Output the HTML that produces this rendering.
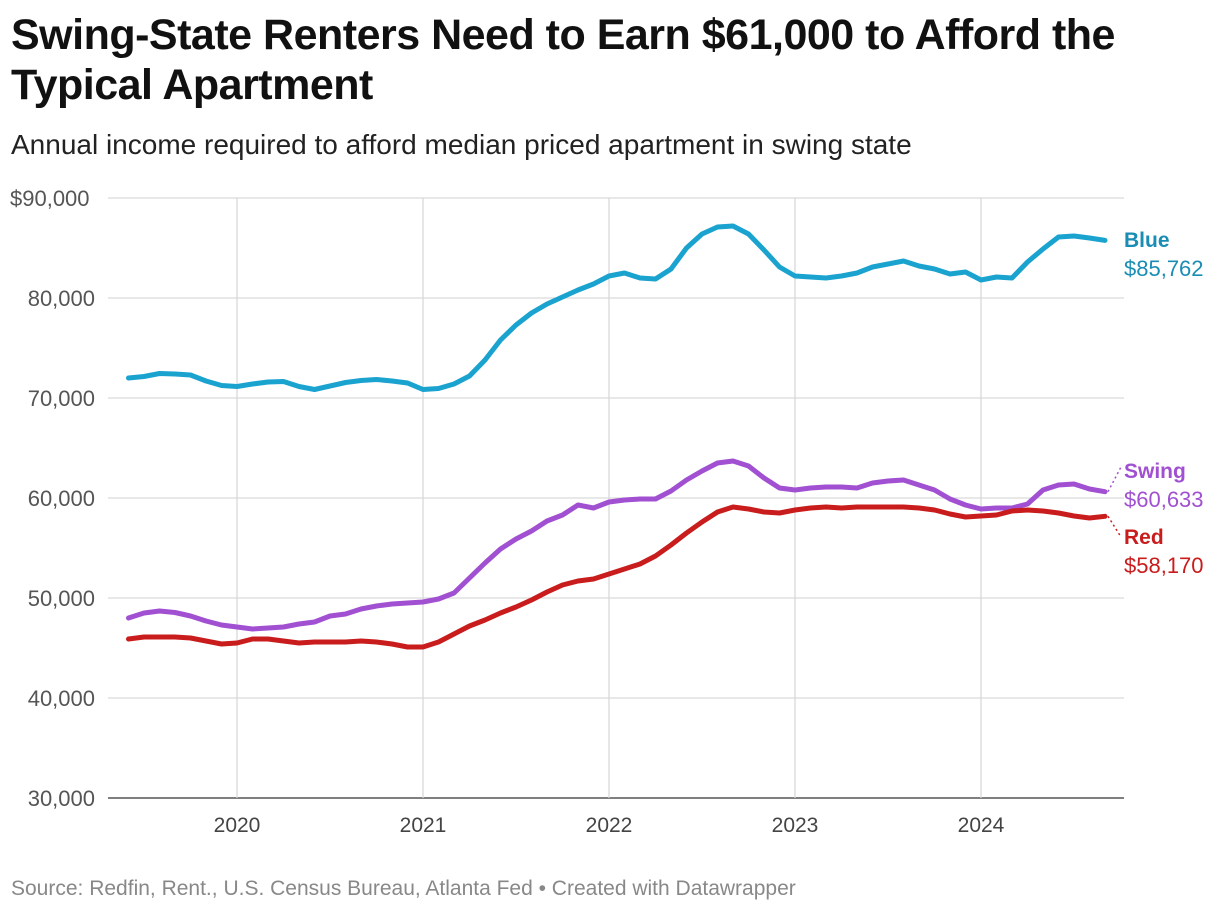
<!DOCTYPE html>
<html><head><meta charset="utf-8"><style>
body{margin:0;background:#fff;font-family:"Liberation Sans",Arial,sans-serif;}
#wrap{position:relative;width:1220px;height:914px;overflow:hidden}
h1{position:absolute;left:11px;top:10px;width:1190px;margin:0;font-size:43px;line-height:50px;font-weight:bold;color:#111;letter-spacing:-0.5px}
.sub{position:absolute;left:11px;top:129px;font-size:28px;color:#222}
.foot{position:absolute;left:11px;top:877px;font-size:21px;color:#888}
</style></head><body>
<div id="wrap">
<h1>Swing-State Renters Need to Earn $61,000 to Afford the Typical Apartment</h1>
<div class="sub">Annual income required to afford median priced apartment in swing state</div>
<svg id="chart" width="1220" height="914" style="position:absolute;left:0;top:0"></svg>
<div class="foot">Source: Redfin, Rent., U.S. Census Bureau, Atlanta Fed • Created with Datawrapper</div>
</div>
<script>
const yTicks=[30000,40000,50000,60000,70000,80000,90000];
const yTickLabels=["30,000","40,000","50,000","60,000","70,000","80,000","$90,000"];
const xYears=[2020,2021,2022,2023,2024];
const startMonth=[2019,6];
const blue=[72000,72150,72450,72400,72300,71700,71250,
71150,71400,71600,71650,71150,70850,71200,71550,71750,71850,71700,71500,
70850,70950,71400,72200,73800,75800,77300,78500,79400,80100,80800,81400,
82200,82500,82000,81900,82900,85000,86400,87100,87200,86400,84800,83100,
82200,82100,82000,82200,82500,83100,83400,83700,83200,82900,82400,82600,
81800,82100,82000,83600,84900,86100,86200,86000,85762];
const swing=[48000,48500,48700,48550,48200,47700,47300,
47100,46900,47000,47100,47400,47600,48200,48400,48900,49200,49400,49500,
49600,49900,50500,52000,53500,54900,55900,56700,57700,58300,59300,59000,
59600,59800,59900,59900,60700,61800,62700,63500,63700,63200,62000,61000,
60800,61000,61100,61100,61000,61500,61700,61800,61300,60800,59900,59300,
58900,59000,59000,59400,60800,61300,61400,60900,60633];
const red=[45900,46100,46100,46100,46000,45700,45400,
45500,45900,45900,45700,45500,45600,45600,45600,45700,45600,45400,45100,
45100,45600,46400,47200,47800,48500,49100,49800,50600,51300,51700,51900,
52400,52900,53400,54200,55300,56500,57600,58600,59100,58900,58600,58500,
58800,59000,59100,59000,59100,59100,59100,59100,59000,58800,58400,58100,
58200,58300,58700,58800,58700,58500,58200,58000,58170];
const seriesNames=["Blue","Swing","Red"];
const seriesColors=["#1aa3cf","#a150d1","#c91c1c"];
const labelColors=["#1a8db5","#a150d1","#c91c1c"];

const NS="http://www.w3.org/2000/svg";
const svg=document.getElementById('chart');
const yS=v=>198+(90000-v)/60000*600;
const xS=(yr,mo)=>237+((yr-2020)*12+(mo-1))*186/12;
const xI=i=>xS(startMonth[0],startMonth[1]+i);
function mk(t,a){const e=document.createElementNS(NS,t);for(const k in a)e.setAttribute(k,a[k]);svg.appendChild(e);return e;}
yTicks.forEach((v,i)=>{
  const l=mk('line',{x1:108,x2:1124,y1:yS(v),y2:yS(v),stroke:i==0?'#333':'#d9d9d9','stroke-width':i==0?1.2:1.3});
  
  
  const t=mk('text',{x:i==6?10:95,y:yS(v)+8,'font-size':22,fill:'#555','text-anchor':i==6?'start':'end'});
  t.textContent=yTickLabels[i];
  
  
});
xYears.forEach(y=>{
  const l=mk('line',{x1:xS(y,1),x2:xS(y,1),y1:198,y2:798,stroke:'#d9d9d9','stroke-width':1.3});
  
  
  const t=mk('text',{x:xS(y,1),y:832,'font-size':21,fill:'#444','text-anchor':'middle'});
  t.textContent=y;
  
  
});
[blue,swing,red].forEach((s,k)=>{
  const p=mk('polyline',{points:s.map((v,i)=>xI(i).toFixed(1)+','+yS(v).toFixed(1)).join(' '),fill:'none',stroke:seriesColors[k],'stroke-width':5,'stroke-linejoin':'round','stroke-linecap':'round'});
  
  
});
const n=blue.length-1;
const labY=[240,471,537];
const series=[blue,swing,red];
series.forEach((s,k)=>{
  const last=s[n];
  if(k>0){
    const c=mk('line',{x1:xI(n)+3,y1:yS(last),x2:1121,y2:k==1?labY[k]-4:labY[k],stroke:seriesColors[k],'stroke-width':1.5,'stroke-dasharray':'2,3'});
    
    
  }
  const t=mk('text',{x:1124,y:labY[k]+7,'font-size':21,'font-weight':'bold',fill:labelColors[k]});
  t.textContent=seriesNames[k];
  
  
  const v=mk('text',{x:1124,y:labY[k]+36,'font-size':22,fill:labelColors[k]});
  v.textContent='$'+last.toLocaleString('en-US');
  
  
});
</script>
</body></html>
